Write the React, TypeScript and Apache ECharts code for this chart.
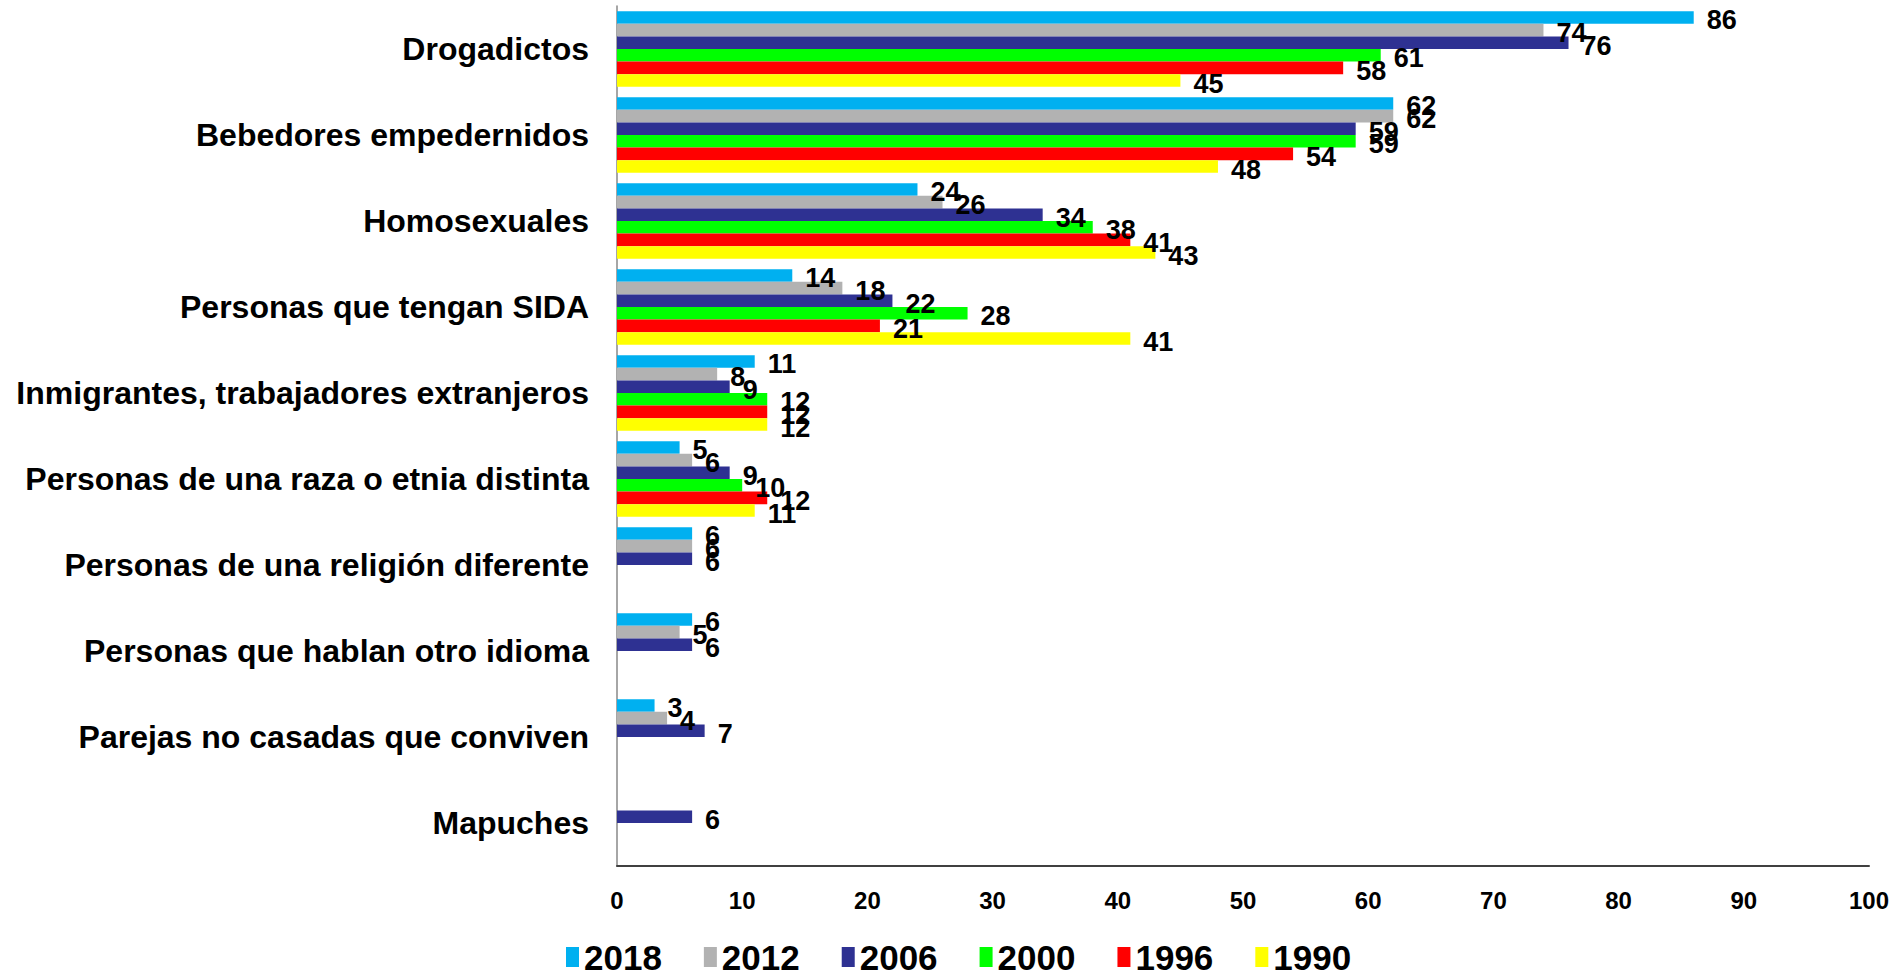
import React, { useEffect, useRef } from "react";
import * as echarts from "echarts";

const categories = [
  "Drogadictos",
  "Bebedores empedernidos",
  "Homosexuales",
  "Personas que tengan SIDA",
  "Inmigrantes, trabajadores extranjeros",
  "Personas de una raza o etnia distinta",
  "Personas de una religión diferente",
  "Personas que hablan otro idioma",
  "Parejas no casadas que conviven",
  "Mapuches",
];

const years = ["2018", "2012", "2006", "2000", "1996", "1990"];

const v2018 = [86, 62, 24, 14, 11, 5, 6, 6, 3, null];
const v2012 = [74, 62, 26, 18, 8, 6, 6, 5, 4, null];
const v2006 = [76, 59, 34, 22, 9, 9, 6, 6, 7, 6];
const v2000 = [61, 59, 38, 28, 12, 10, null, null, null, null];
const v1996 = [58, 54, 41, 21, 12, 12, null, null, null, null];
const v1990 = [45, 48, 43, 41, 12, 11, null, null, null, null];

const seriesValues = [v2018, v2012, v2006, v2000, v1996, v1990];
const colors = ["#00B0F0", "#B2B2B2", "#2E3192", "#00FF00", "#FF0000", "#FFFF00"];

const xTicks = { min: 0, max: 100, interval: 10 };

const FONT = "'Liberation Sans', Arial, Helvetica, sans-serif";

export default function App() {
  const ref = useRef<HTMLDivElement>(null);
  useEffect(() => {
    if (!ref.current) return;
    const chart = echarts.init(ref.current, null, { renderer: "svg" });
    chart.setOption({
      animation: false,
      backgroundColor: "#ffffff",
      textStyle: { fontFamily: FONT },
      grid: { left: 617, right: 28, top: 6, bottom: 112, containLabel: false },
      legend: {
        data: years,
        left: 566,
        top: 939,
        padding: 0,
        itemWidth: 13,
        itemHeight: 20,
        itemGap: 42,
        icon: "rect",
        textStyle: {
          fontSize: 35,
          lineHeight: 36,
          fontWeight: "bold",
          color: "#000",
          fontFamily: FONT,
        },
      },
      xAxis: {
        type: "value",
        min: xTicks.min,
        max: xTicks.max,
        interval: xTicks.interval,
        splitLine: { show: false },
        axisLine: { show: true, lineStyle: { color: "#404040", width: 2 } },
        axisTick: { show: false },
        axisLabel: { fontSize: 24, fontWeight: "bold", color: "#000", margin: 22, fontFamily: FONT },
      },
      yAxis: {
        type: "category",
        data: categories,
        inverse: true,
        axisLine: { show: true, lineStyle: { color: "#888888", width: 1.5 } },
        axisTick: { show: false },
        axisLabel: { fontSize: 32, fontWeight: "bold", color: "#000", margin: 28, fontFamily: FONT },
      },
      series: years.map((y, i) => ({
        name: y,
        type: "bar",
        data: seriesValues[i].map((v) => (v === null ? "-" : v)),
        barGap: "0%",
        barCategoryGap: "12%",
        itemStyle: { color: colors[i] },
        label: {
          show: true,
          position: "right",
          distance: 13,
          offset: [0, 3],
          fontSize: 27,
          fontWeight: "bold",
          color: "#000",
          fontFamily: FONT,
        },
      })),
    });
    return () => chart.dispose();
  }, []);
  return (
    <div
      ref={ref}
      style={{ position: "fixed", left: 0, top: 0, width: 1897, height: 978, background: "#fff" }}
    />
  );
}
